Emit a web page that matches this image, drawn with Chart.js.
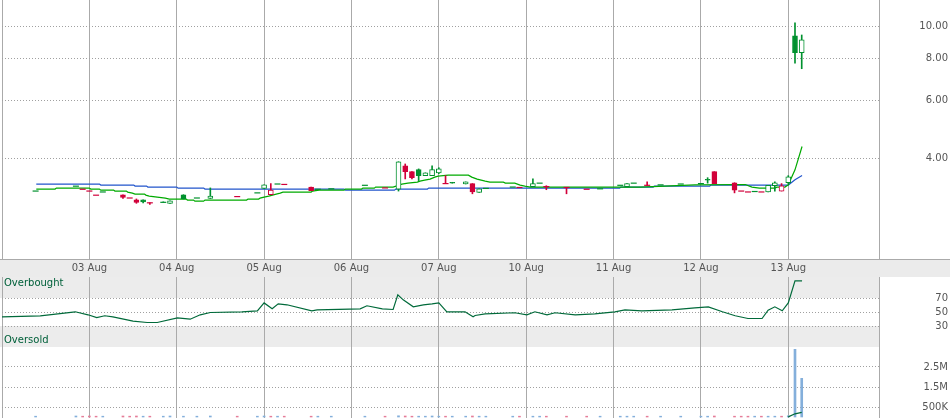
<!DOCTYPE html>
<html>
<head>
<meta charset="utf-8">
<script src="https://cdn.jsdelivr.net/npm/chart.js@4/dist/chart.umd.min.js"></script>
<style>
  html, body { margin: 0; padding: 0; background: #fff; }
  #wrap { position: relative; width: 950px; height: 418px; overflow: hidden; }
  canvas { position: absolute; left: 0; }
</style>
</head>
<body>
<div id="wrap">
  <canvas id="priceChart" width="950" height="277" style="top:0"></canvas>
  <canvas id="rsiChart" width="950" height="70" style="top:277px"></canvas>
  <canvas id="volChart" width="950" height="71" style="top:347px"></canvas>
</div>
<script>
// x positions are half-hour slots, 13 per trading day
const dayLabels = ['', '03 Aug', '04 Aug', '05 Aug', '06 Aug', '07 Aug', '10 Aug', '11 Aug', '12 Aug', '13 Aug', ''];
const dayTicks = [0, 13, 26, 39, 52, 65, 78, 91, 104, 117, 130.5];

const slot = [5, 11, 12, 13, 14, 15, 18, 19, 20, 21, 22, 24, 25, 27, 29, 31, 35, 38, 39, 40, 41, 42, 46, 47, 49, 54, 57,
  59, 60, 61, 62, 63, 64, 65, 66, 67, 69, 70, 71, 72, 76, 77, 79, 80, 81, 84, 87, 89, 92, 93, 94, 96, 98, 101, 104,
  105, 106, 109, 110, 111, 112, 113, 114, 115, 116, 117, 118, 119];
const open = [3.20, 3.31, 3.24, 3.20, 3.11, 3.18, 3.12, 3.05, 3.01, 3.01, 2.95, 2.96, 2.94, 3.12, 3.05, 3.04, 3.08, 3.16, 3.26, 3.12, 3.36, 3.35, 3.29, 3.24, 3.25, 3.33, 3.27,
  3.24, 3.81, 3.66, 3.71, 3.56, 3.56, 3.63, 3.37, 3.40, 3.36, 3.37, 3.17, 3.26, 3.29, 3.28, 3.30, 3.38, 3.30, 3.28, 3.24, 3.25, 3.33, 3.30, 3.38, 3.33, 3.34, 3.36, 3.37,
  3.47, 3.66, 3.39, 3.20, 3.18, 3.19, 3.18, 3.18, 3.32, 3.20, 3.39, 9.36, 8.34];
const high = [3.20, 3.31, 3.24, 3.20, 3.11, 3.18, 3.12, 3.05, 3.03, 3.01, 2.95, 2.97, 2.99, 3.12, 3.05, 3.27, 3.08, 3.16, 3.34, 3.37, 3.36, 3.35, 3.29, 3.24, 3.25, 3.33, 3.27,
  3.92, 3.86, 3.66, 3.73, 3.63, 3.81, 3.76, 3.56, 3.40, 3.41, 3.37, 3.25, 3.26, 3.29, 3.28, 3.48, 3.38, 3.32, 3.28, 3.24, 3.25, 3.33, 3.37, 3.38, 3.41, 3.34, 3.36, 3.37,
  3.51, 3.66, 3.39, 3.20, 3.18, 3.19, 3.18, 3.33, 3.41, 3.37, 3.56, 10.24, 9.42];
const low = [3.20, 3.31, 3.24, 3.20, 3.11, 3.18, 3.04, 3.05, 2.94, 2.95, 2.92, 2.96, 2.94, 3.03, 3.05, 3.04, 3.08, 3.16, 3.26, 3.12, 3.36, 3.35, 3.21, 3.24, 3.25, 3.33, 3.27,
  3.20, 3.48, 3.48, 3.44, 3.56, 3.56, 3.61, 3.37, 3.38, 3.36, 3.14, 3.17, 3.26, 3.29, 3.28, 3.30, 3.38, 3.23, 3.14, 3.24, 3.25, 3.33, 3.30, 3.38, 3.33, 3.34, 3.36, 3.37,
  3.38, 3.37, 3.16, 3.20, 3.18, 3.19, 3.18, 3.18, 3.20, 3.20, 3.37, 7.75, 7.46];
const close = [3.20, 3.31, 3.24, 3.20, 3.11, 3.18, 3.06, 3.05, 2.96, 2.97, 2.95, 2.96, 2.99, 3.03, 3.05, 3.09, 3.08, 3.16, 3.34, 3.22, 3.36, 3.35, 3.21, 3.24, 3.25, 3.33, 3.27,
  3.92, 3.66, 3.51, 3.56, 3.63, 3.71, 3.73, 3.37, 3.38, 3.41, 3.18, 3.25, 3.26, 3.29, 3.28, 3.37, 3.38, 3.30, 3.28, 3.24, 3.25, 3.33, 3.37, 3.38, 3.33, 3.34, 3.36, 3.37,
  3.45, 3.37, 3.22, 3.20, 3.18, 3.19, 3.18, 3.33, 3.39, 3.32, 3.53, 8.34, 9.11];
const volume = [40000, 50000, 40000, 50000, 40000, 40000, 50000, 40000, 50000, 40000, 40000, 40000, 50000, 40000, 40000, 50000, 40000, 40000, 50000, 40000, 40000, 40000, 40000, 40000, 40000, 40000, 40000,
  60000, 50000, 40000, 40000, 40000, 50000, 40000, 40000, 40000, 40000, 50000, 40000, 40000, 40000, 40000, 40000, 40000, 40000, 40000, 40000, 40000, 40000, 40000, 40000, 40000, 40000, 40000, 40000,
  40000, 50000, 40000, 40000, 40000, 40000, 40000, 40000, 40000, 40000, 60000, 3385000, 1935000];

const maShortX = [5.1, 7.9, 8.1, 13.0, 13.2, 14.5, 14.7, 16.6, 16.8, 18.5, 18.7, 19.4, 19.8, 21.2, 21.4, 21.9, 23.1, 24.3, 24.9, 27.4,
  27.6, 28.5, 28.7, 30.0, 30.2, 36.4, 36.6, 38.2, 38.4, 39.0, 39.7, 40.8, 41.4, 41.8, 46.0, 46.2, 47.2, 50.9, 51.1, 53.5,
  53.7, 55.4, 55.6, 58.2, 59.5, 60.4, 61.8, 62.2, 62.9, 63.7, 64.4, 64.9, 66.4, 69.4, 69.9, 70.7, 71.9, 72.6, 74.6, 74.9,
  76.3, 77.1, 77.8, 78.6, 95.0, 103.1, 110.6, 111.6, 112.7, 115.0, 115.3, 116.5, 117.0, 118.0, 119.05];
const maShort = [3.244, 3.244, 3.266, 3.266, 3.244, 3.244, 3.221, 3.221, 3.199, 3.199, 3.177, 3.155, 3.133, 3.133, 3.112, 3.090, 3.069, 3.048, 3.027, 3.027,
  3.006, 3.006, 2.985, 2.985, 3.006, 3.006, 3.027, 3.027, 3.048, 3.069, 3.090, 3.133, 3.155, 3.177, 3.177, 3.199, 3.221, 3.221, 3.244, 3.244,
  3.266, 3.266, 3.289, 3.289, 3.358, 3.381, 3.404, 3.428, 3.451, 3.475, 3.524, 3.549, 3.573, 3.573, 3.524, 3.475, 3.428, 3.404, 3.404, 3.381,
  3.381, 3.335, 3.312, 3.289, 3.289, 3.342, 3.349, 3.289, 3.266, 3.266, 3.289, 3.289, 3.342, 3.707, 4.355];
const maLongX = [5.1, 14.5, 14.7, 19.6, 19.8, 21.5, 21.7, 26.0, 26.2, 30.0, 30.2, 50.9, 51.1, 58.4, 58.6, 63.3, 63.5, 91.9, 92.1, 96.9,
  97.1, 105.3, 105.5, 117.0, 118.0, 119.05];
const maLong = [3.358, 3.358, 3.335, 3.335, 3.312, 3.312, 3.289, 3.289, 3.266, 3.266, 3.244, 3.244, 3.221, 3.221, 3.244, 3.244, 3.266, 3.266, 3.289, 3.289,
  3.312, 3.312, 3.335, 3.335, 3.46, 3.565];

const rsiX = [0, 5.7, 10.9, 12.8, 14.1, 15.3, 16.5, 19.5, 21.6, 23.1, 26.1, 28.0, 29.5, 31.0, 35.7, 38.0, 39.0, 40.2, 41.1, 42.4,
  46.1, 46.9, 53.3, 54.3, 56.6, 58.2, 58.9, 59.7, 61.2, 62.7, 64.0, 65.0, 66.2, 68.9, 70.1, 70.4, 71.9, 76.3, 78.1, 79.3,
  81.1, 82.3, 85.3, 88.2, 91.2, 92.7, 95.2, 99.7, 103.1, 105.1, 107.2, 109.1, 111.0, 113.1, 114.0, 115.0, 116.1, 117.0, 118.0, 119.05];
const rsi = [43, 44.6, 50.3, 46, 42, 44.6, 43.1, 36.9, 35, 35, 41.7, 39.7, 46, 49.3, 50.3, 51.7, 63, 54.6, 61.7, 60.3,
  51.7, 53, 54.6, 58.9, 54.6, 53.6, 74.6, 67.4, 57.4, 60.3, 61.7, 63, 50.3, 50.3, 43.1, 45, 47.4, 48.9, 46, 50.3,
  46, 48.9, 46, 47.4, 50.3, 53, 51.7, 53, 56, 57.4, 50.3, 44.6, 40.7, 40.7, 52.6, 57.4, 51.7, 63, 94.6, 94.6];

const volMaX = [117, 118, 119];
const volMa = [5000, 160000, 235000];

const priceTicks = [4, 6, 8, 10];
const rsiTicks = [30, 50, 70];
const volGrid = [500000, 1000000, 1500000, 2000000, 2500000, 3000000];
const volLabelled = [500000, 1500000, 2500000];

const UP = '#00912e', DOWN = '#d1003a';
const VOL_UP = '#84afdb', VOL_DOWN = '#e57d99';
const MA_SHORT = '#00aa00', MA_LONG = '#2255cc', RSI_LINE = '#006a3a';
const tickFont = { family: 'DejaVu Sans', size: 10 };

const idx = slot.map((s, i) => i);
const candleColor = close.map((c, i) => (i === 0 || c >= close[i - 1]) ? UP : DOWN);
const bodyIdx = idx.filter(i => open[i] !== close[i]);
const dashIdx = idx.filter(i => open[i] === close[i]);
const wickIdx = idx.filter(i => high[i] > low[i]);

function xScale(showLabels) {
  return {
    type: 'linear', min: 0, max: 130.5, offset: false,
    afterBuildTicks: s => { s.ticks = dayTicks.map(v => ({ value: v })); },
    afterFit: s => { s.height = showLabels ? 18 : 0; s.paddingLeft = 0; s.paddingRight = 0; },
    grid: { color: '#aaa', drawTicks: false, offset: false },
    border: { display: false },
    ticks: { display: showLabels, padding: 3, autoSkip: false, maxRotation: 0, color: '#555', font: tickFont,
      callback: (v, i) => dayLabels[i] }
  };
}

function yRight(extra, pad) {
  return Object.assign({
    position: 'right',
    afterFit: s => { s.width = 69; s.paddingTop = 0; s.paddingBottom = 0; },
    grid: { color: '#a0a0a0', drawTicks: false },
    border: { display: false, dash: [1, 2] },
    ticks: { crossAlign: 'far', padding: pad, color: '#555', font: tickFont }
  }, extra);
}

const common = {
  responsive: false, maintainAspectRatio: false, animation: false, events: [],
  layout: { autoPadding: false, padding: { left: 2, right: 2, top: 0, bottom: 0 } },
  plugins: { legend: { display: false }, tooltip: { enabled: false } }
};

const pts = (xs, ys) => xs.map((x, i) => ({ x: x, y: ys[i] }));

// price panel
const priceY = yRight({
  type: 'logarithmic', min: 2, max: 12,
  afterBuildTicks: s => { s.ticks = priceTicks.map(v => ({ value: v })); }
}, 40);
priceY.ticks.callback = v => Number(v).toFixed(2);

new Chart(document.getElementById('priceChart'), {
  type: 'bar',
  data: {
    datasets: [
      { type: 'line', data: pts(maLongX, maLong), borderColor: MA_LONG, borderWidth: 1.2, pointRadius: 0, order: 5 },
      { type: 'line', data: pts(maShortX, maShort), borderColor: MA_SHORT, borderWidth: 1.2, pointRadius: 0, order: 4 },
      {
        type: 'bar', grouped: false, barThickness: 1, order: 3,
        data: wickIdx.map(i => ({ x: slot[i], y: [low[i], high[i]] })),
        backgroundColor: wickIdx.map(i => candleColor[i])
      },
      {
        type: 'bar', grouped: false, barThickness: 5, order: 2, borderWidth: 1, borderSkipped: false,
        data: bodyIdx.map(i => ({ x: slot[i], y: [Math.min(open[i], close[i]), Math.max(open[i], close[i])] })),
        backgroundColor: bodyIdx.map(i => close[i] > open[i] ? '#fff' : candleColor[i]),
        borderColor: bodyIdx.map(i => candleColor[i])
      },
      {
        type: 'line', showLine: false, order: 1,
        data: dashIdx.map(i => ({ x: slot[i], y: close[i] })),
        pointStyle: 'line', pointRadius: 3, pointBorderWidth: 1.2,
        pointBorderColor: dashIdx.map(i => candleColor[i])
      }
    ]
  },
  options: Object.assign({}, common, {
    scales: { x: xScale(true), y: priceY }
  }),
  plugins: [{
    id: 'dateBand',
    beforeDraw(chart) {
      const ctx = chart.ctx, b = chart.chartArea.bottom;
      ctx.save();
      ctx.fillStyle = '#ebebeb';
      ctx.fillRect(0, b, chart.width, chart.height - b);
      ctx.strokeStyle = '#aaa';
      ctx.lineWidth = 1;
      ctx.beginPath();
      ctx.moveTo(0, b + 0.5);
      ctx.lineTo(chart.width, b + 0.5);
      ctx.stroke();
      ctx.restore();
    }
  }]
});

// RSI panel
const rsiY = yRight({
  min: 0, max: 100,
  afterBuildTicks: s => { s.ticks = rsiTicks.map(v => ({ value: v })); }
}, 56);

new Chart(document.getElementById('rsiChart'), {
  type: 'line',
  data: {
    datasets: [{ data: pts(rsiX, rsi), borderColor: RSI_LINE, borderWidth: 1.2, pointRadius: 0 }]
  },
  options: Object.assign({}, common, {
    scales: { x: xScale(false), y: rsiY }
  }),
  plugins: [{
    id: 'rsiBands',
    beforeDraw(chart) {
      const ctx = chart.ctx, y = chart.scales.y, a = chart.chartArea;
      ctx.save();
      ctx.fillStyle = '#ececec';
      ctx.fillRect(0, a.top, a.right, y.getPixelForValue(70) - a.top);
      ctx.fillRect(0, y.getPixelForValue(30), a.right, a.bottom - y.getPixelForValue(30));
      ctx.restore();
    },
    afterDraw(chart) {
      const ctx = chart.ctx, a = chart.chartArea;
      ctx.save();
      ctx.fillStyle = '#00603a';
      ctx.font = '10px "DejaVu Sans"';
      ctx.textBaseline = 'middle';
      ctx.fillText('Overbought', 4, a.top + 6);
      ctx.fillText('Oversold', 4, a.bottom - 7);
      ctx.restore();
    }
  }]
});

// volume panel
const volY = yRight({
  min: -50000, max: 3500000,
  afterBuildTicks: s => { s.ticks = volGrid.map(v => ({ value: v })); }
}, 43);
volY.ticks.callback = v => volLabelled.includes(v) ? (v >= 1000000 ? (v / 1000000) + 'M' : (v / 1000) + 'K') : '';

new Chart(document.getElementById('volChart'), {
  type: 'bar',
  data: {
    datasets: [
      {
        type: 'bar', grouped: false, barThickness: 2, order: 2,
        data: idx.map(i => ({ x: slot[i], y: volume[i] })),
        backgroundColor: idx.map(i => candleColor[i] === UP ? VOL_UP : VOL_DOWN)
      },
      { type: 'line', data: pts(volMaX, volMa), borderColor: RSI_LINE, borderWidth: 1.2, pointRadius: 0, order: 1 }
    ]
  },
  options: Object.assign({}, common, {
    scales: { x: xScale(false), y: volY }
  })
});
</script>
</body>
</html>
